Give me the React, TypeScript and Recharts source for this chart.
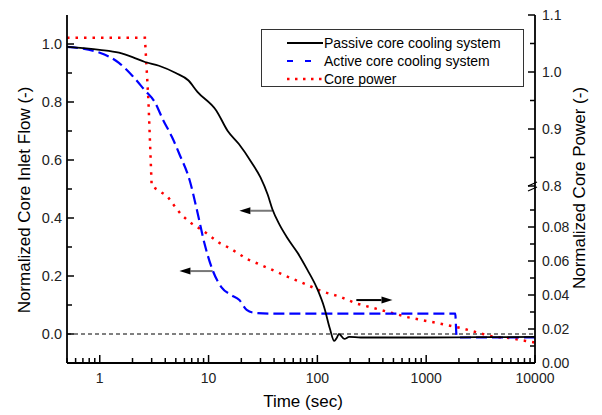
import { Legend, Line, LineChart, ReferenceLine, XAxis, YAxis } from "recharts";

const FONT = "Arial, 'Liberation Sans', sans-serif";

// passive core cooling system (core inlet flow, left axis)
const passiveTime = [
  0.5, 1, 1.5, 2, 2.6, 3.5, 5, 6.5, 7.9, 11.8, 15, 19, 25, 30, 35, 38.6, 45, 53,
  66, 81, 98, 116, 130, 143, 150, 158, 177, 196, 250, 500, 1000, 3000, 10000,
];
const passiveFlow = [
  0.99, 0.98, 0.97, 0.955, 0.938, 0.925, 0.9, 0.875, 0.835, 0.77, 0.7, 0.655,
  0.59, 0.54, 0.48, 0.43, 0.376, 0.331, 0.279, 0.221, 0.162, 0.09, 0.02, -0.024,
  -0.015, 0.0, -0.017, -0.01, -0.012, -0.012, -0.012, -0.011, -0.01,
];

// active core cooling system (core inlet flow, left axis)
const activeTime = [
  0.5, 1, 1.5, 2, 2.6, 3.2, 3.8, 4.6, 5.4, 6.7, 7.9, 9.2, 10.9, 13.1, 16, 19.2,
  22.4, 26.4, 40, 100, 1000, 1850, 1900, 2000, 10000,
];
const activeFlow = [
  0.99, 0.97, 0.935, 0.89, 0.84, 0.8, 0.74, 0.68, 0.62, 0.53, 0.42, 0.31, 0.22,
  0.162, 0.135, 0.117, 0.083, 0.073, 0.07, 0.07, 0.07, 0.07, -0.005, -0.012,
  -0.012,
];

// core power (right axis, broken between 0.09 and 0.8)
const powerTime = [
  0.5, 2.6, 2.8, 3.0, 4.2, 4.9, 5.65, 7.0, 8.8, 12.6, 15.6, 22.8, 34.8, 52, 74,
  111, 162, 228, 394, 667, 1260, 2080, 2930, 4230, 5790, 8200, 10000,
];
const corePower = [
  1.06, 1.06, 0.95, 0.8, 0.098, 0.092, 0.087, 0.082, 0.078, 0.0706, 0.0676,
  0.061, 0.056, 0.051, 0.047, 0.042, 0.039, 0.035, 0.031, 0.027, 0.0235, 0.0206,
  0.018, 0.0153, 0.0147, 0.013, 0.012,
];

// ticks
const xMajor = [1, 10, 100, 1000, 10000];
const xTicks = [0.1, 1, 10, 100, 1000]
  .flatMap((d) => [1, 2, 3, 4, 5, 6, 7, 8, 9].map((m) => m * d))
  .filter((v) => v >= 0.5 - 1e-9)
  .concat([10000]);
const leftTicks = [0, 0.1, 0.2, 0.3, 0.4, 0.5, 0.6, 0.7, 0.8, 0.9, 1.0];
const leftMajor = [0, 0.2, 0.4, 0.6, 0.8, 1.0];
const rightTicks = [
  0, 0.01, 0.02, 0.03, 0.04, 0.05, 0.06, 0.07, 0.08, 0.09, 0.8, 0.85, 0.9, 0.95,
  1.0, 1.05, 1.1,
];
const rightMajor = [0, 0.02, 0.04, 0.06, 0.08, 0.8, 0.9, 1.0, 1.1];

// arrows pointing to the axis each curve belongs to (time, flow units)
const arrows = [
  { from: [38.6, 0.425], to: [19.2, 0.425], shaft: "#777" },
  { from: [10.9, 0.217], to: [5.4, 0.217], shaft: "#777" },
  { from: [228, 0.117], to: [490, 0.117], shaft: "#000" },
];

// broken right axis: map power onto the left axis range [-0.1, 1.1]
const FLOW_MIN = -0.1;
const FLOW_MAX = 1.1;
const powerToAxis = (p: number) =>
  p >= 0.5 ? FLOW_MAX - (FLOW_MAX - p) * (570 / 290) : FLOW_MIN + p * (1700 / 290);

const zip = (t: number[], v: number[]) => t.map((x, i) => ({ t: x, v: v[i] }));
const passiveData = zip(passiveTime, passiveFlow);
const activeData = zip(activeTime, activeFlow);
const powerData = zip(powerTime, corePower.map(powerToAxis));

const near = (a: number, b: number) => Math.abs(a - b) < 1e-6;

const XTick = (props: any) => {
  const { x, y, payload, top } = props;
  const v = payload.value;
  const major = xMajor.some((m) => near(m, v));
  const len = top ? (major ? 3 : 2) : major ? 8 : 5;
  return (
    <g>
      <line x1={x} x2={x} y1={y} y2={top ? y + len : y - len} stroke="#000" strokeWidth={1.5} />
      {!top && major && (
        <text x={x} y={y + 20} textAnchor="middle" fontSize={14} fontFamily={FONT} fill="#222">
          {v}
        </text>
      )}
    </g>
  );
};

const LeftTick = (props: any) => {
  const { x, y, payload } = props;
  const v = payload.value;
  const major = leftMajor.some((m) => near(m, v));
  return (
    <g>
      <line x1={x} x2={x + (major ? 7 : 5)} y1={y} y2={y} stroke="#000" strokeWidth={1.5} />
      {major && (
        <text x={x - 5} y={y} dy="0.36em" textAnchor="end" fontSize={14.5} fontFamily={FONT} fill="#222">
          {v.toFixed(1)}
        </text>
      )}
    </g>
  );
};

const RightTick = (props: any) => {
  const { x, y, payload } = props;
  const idx = rightTicks.findIndex((p) => near(powerToAxis(p), payload.value));
  const p = rightTicks[idx];
  const major = rightMajor.some((m) => near(m, p));
  return (
    <g>
      <line x1={x} x2={x - (major ? 7 : 5)} y1={y} y2={y} stroke="#000" strokeWidth={1.5} />
      {near(p, 0.8) && (
        <g stroke="#000" strokeWidth={1.2}>
          <line x1={x - 7} y1={y} x2={x + 2} y2={y - 4} />
          <line x1={x - 7} y1={y + 5} x2={x + 2} y2={y + 1} />
        </g>
      )}
      {major && (
        <text x={x + 7} y={y} dy="0.36em" textAnchor="start" fontSize={14} fontFamily={FONT} fill="#222">
          {p < 0.5 ? p.toFixed(2) : p.toFixed(1)}
        </text>
      )}
    </g>
  );
};

const Arrow = (props: any) => {
  const { x1, y1, x2, y2, shaft } = props;
  const a = Math.atan2(y2 - y1, x2 - x1);
  const L = 11;
  const W = 3.5;
  const bx = x2 - L * Math.cos(a);
  const by = y2 - L * Math.sin(a);
  const pts = [
    [x2, y2],
    [bx - W * Math.sin(a), by + W * Math.cos(a)],
    [bx + W * Math.sin(a), by - W * Math.cos(a)],
  ]
    .map((q) => q.join(","))
    .join(" ");
  return (
    <g>
      <line x1={x1} y1={y1} x2={bx} y2={by} stroke={shaft} strokeWidth={2} />
      <polygon points={pts} fill="#000" />
    </g>
  );
};

const legendItems = [
  { name: "Passive core cooling system", color: "#000", dash: undefined, w: 1.8 },
  { name: "Active core cooling system", color: "#0000ff", dash: "6 12", w: 2.2 },
  { name: "Core power", color: "#ff0000", dash: "2.5 5.5", w: 2.5 },
];

const LegendBox = () => (
  <div
    style={{
      width: 263,
      height: 58,
      boxSizing: "border-box",
      border: "1.5px solid #333",
      background: "#fff",
      padding: "4px 0 0 25px",
      fontFamily: FONT,
      fontSize: 14,
      color: "#000",
    }}
  >
    {legendItems.map((it) => (
      <div key={it.name} style={{ display: "flex", alignItems: "center", height: 18 }}>
        <svg width={36} height={10} style={{ flex: "none" }}>
          <line
            x1={0}
            x2={36}
            y1={5}
            y2={5}
            stroke={it.color}
            strokeWidth={it.w}
            strokeDasharray={it.dash}
          />
        </svg>
        <span style={{ marginLeft: 1, whiteSpace: "nowrap" }}>{it.name}</span>
      </div>
    ))}
  </div>
);

const LeftTitle = (p: any) => {
  const vb = p.viewBox || { x: 0, y: 15, width: 67, height: 348 };
  return (
    <text
      transform={`translate(${vb.x + 30},${vb.y + vb.height / 2 + 11}) rotate(-90)`}
      textAnchor="middle"
      fontSize={17}
      fontFamily={FONT}
      fill="#000"
    >
      Normalized Core Inlet Flow (-)
    </text>
  );
};

const RightTitle = (p: any) => {
  const vb = p.viewBox || { x: 535, y: 15, width: 67, height: 348 };
  return (
    <text
      transform={`translate(${vb.x + 50},${vb.y + vb.height / 2 - 1}) rotate(-90)`}
      textAnchor="middle"
      fontSize={17}
      fontFamily={FONT}
      fill="#000"
    >
      Normalized Core Power (-)
    </text>
  );
};

const BottomTitle = (p: any) => {
  const vb = p.viewBox || { x: 67, y: 363, width: 468, height: 52 };
  return (
    <text
      x={vb.x + vb.width / 2 + 2}
      y={vb.y + 44}
      textAnchor="middle"
      fontSize={17}
      fontFamily={FONT}
      fill="#000"
    >
      Time (sec)
    </text>
  );
};

export default function App() {
  return (
    <div style={{ position: "absolute", left: 0, top: 0, background: "#fff" }}>
      <LineChart
        width={602}
        height={415}
        margin={{ top: 15, right: 0, bottom: 0, left: 0 }}
        style={{ fontFamily: FONT }}
      >
        <XAxis
          dataKey="t"
          type="number"
          scale="log"
          domain={[0.5, 10000]}
          allowDataOverflow
          ticks={xTicks}
          interval={0}
          height={52}
          tickSize={0}
          tickMargin={0}
          tickLine={false}
          tick={(p: any) => <XTick {...p} />}
          axisLine={{ stroke: "#000", strokeWidth: 1.8 }}
          label={{ content: BottomTitle }}
        />
        <XAxis
          xAxisId="top"
          orientation="top"
          dataKey="t"
          type="number"
          scale="log"
          domain={[0.5, 10000]}
          allowDataOverflow
          ticks={xTicks}
          interval={0}
          height={0}
          tickSize={0}
          tickMargin={0}
          tickLine={false}
          tick={(p: any) => <XTick {...p} top />}
          axisLine={{ stroke: "#000", strokeWidth: 1.8 }}
        />
        <YAxis
          type="number"
          domain={[FLOW_MIN, FLOW_MAX]}
          allowDataOverflow
          ticks={leftTicks}
          interval={0}
          width={67}
          tickSize={0}
          tickMargin={0}
          tickLine={false}
          tick={(p: any) => <LeftTick {...p} />}
          axisLine={{ stroke: "#000", strokeWidth: 1.8 }}
          label={{ content: LeftTitle }}
        />
        <YAxis
          yAxisId="right"
          orientation="right"
          type="number"
          domain={[FLOW_MIN, FLOW_MAX]}
          allowDataOverflow
          ticks={rightTicks.map(powerToAxis)}
          interval={0}
          width={67}
          tickSize={0}
          tickMargin={0}
          tickLine={false}
          tick={(p: any) => <RightTick {...p} />}
          axisLine={{ stroke: "#000", strokeWidth: 1.8 }}
          label={{ content: RightTitle }}
        />
        <ReferenceLine y={0} stroke="#000" strokeWidth={1} strokeDasharray="4 3" />
        {arrows.map((a, i) => (
          <ReferenceLine
            key={i}
            segment={[
              { x: a.from[0], y: a.from[1] },
              { x: a.to[0], y: a.to[1] },
            ]}
            shape={(p: any) => <Arrow {...p} shaft={a.shaft} />}
          />
        ))}
        <Line
          data={powerData}
          yAxisId="right"
          dataKey="v"
          type="linear"
          stroke="#ff0000"
          strokeWidth={2.5}
          strokeDasharray="2.5 6"
          dot={false}
          activeDot={false}
          isAnimationActive={false}
        />
        <Line
          data={activeData}
          dataKey="v"
          type="monotone"
          stroke="#0000ff"
          strokeWidth={2.2}
          strokeDasharray="11 5"
          dot={false}
          activeDot={false}
          isAnimationActive={false}
        />
        <Line
          data={passiveData}
          dataKey="v"
          type="monotone"
          stroke="#000"
          strokeWidth={1.8}
          dot={false}
          activeDot={false}
          isAnimationActive={false}
        />
        <Legend
          layout="horizontal"
          align="center"
          verticalAlign="middle"
          wrapperStyle={{ top: 29, left: 261, width: 263, height: 58 }}
          content={() => <LegendBox />}
        />
      </LineChart>
    </div>
  );
}
